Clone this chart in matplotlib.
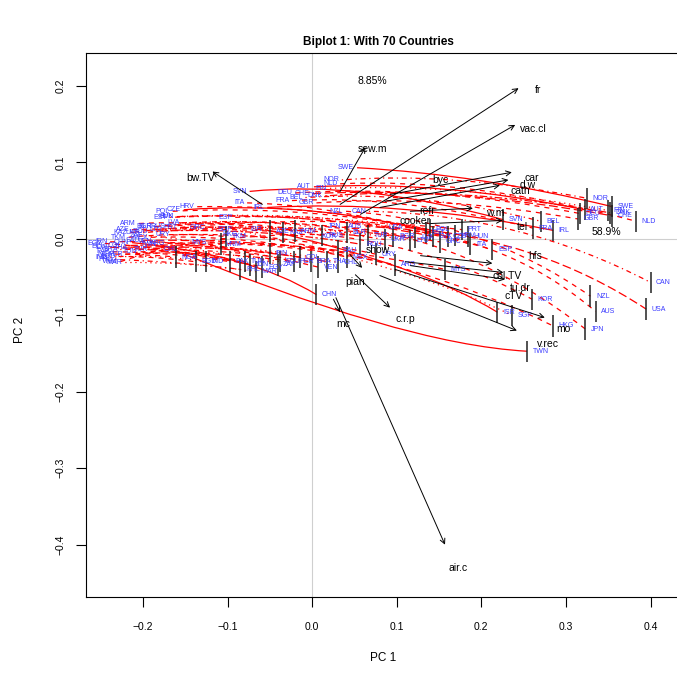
import matplotlib
matplotlib.use("Agg")
import matplotlib.pyplot as plt
from matplotlib.path import Path
from matplotlib.patches import PathPatch

plt.rcParams['font.family'] = ['Liberation Sans', 'DejaVu Sans']

# paesi: punto iniziale, punto di curvatura, punto finale (PC1, PC2)
countries = ["SWE", "NOR", "NLD", "AUT", "FIN", "DEU", "CHE", "DNK", "GBR", "BEL",
             "FRA", "IRL", "ITA", "SVN", "ESP", "CAN", "NZL", "USA", "AUS", "JPN",
             "KOR", "HKG", "TWN", "SGP", "ISR", "CHN", "MYS", "ARG", "CHL", "MEX",
             "THA", "VEN", "BRA", "PER", "ZAF", "TKM", "KAZ", "RUS", "BLR", "TUR",
             "UKR", "BGR", "POL", "CZE", "HUN", "PRT", "SVK", "HRV", "EST", "LVA",
             "LTU", "GRC", "ROU", "AZE", "NGA", "IND", "PAK", "IDN", "EGY", "PHL",
             "VNM", "MAR", "BGD", "TUN", "COL", "IRN", "ECU", "URY", "SAU", "ARM"]
start_x = [0.053, 0.035, 0.033, 0.002, 0.021, -0.020, 0.000, 0.015, 0.005, -0.008,
           -0.024, -0.053, -0.077, -0.074, -0.091, 0.067, 0.040, 0.110, 0.063, 0.038,
           0.032, -0.085, -0.180, -0.091, -0.056, -0.213, -0.121, -0.171, -0.156, -0.191,
           -0.215, -0.186, -0.227, -0.221, -0.197, -0.217, -0.215, -0.171, -0.186, -0.191,
           -0.200, -0.186, -0.165, -0.152, -0.160, -0.156, -0.160, -0.136, -0.168, -0.154,
           -0.174, -0.123, -0.191, -0.213, -0.233, -0.239, -0.236, -0.239, -0.245, -0.233,
           -0.227, -0.221, -0.229, -0.203, -0.221, -0.239, -0.241, -0.165, -0.200, -0.205]
start_y = [0.093, 0.077, 0.072, 0.068, 0.066, 0.060, 0.059, 0.056, 0.047, 0.054,
           0.050, 0.041, 0.047, 0.062, 0.028, 0.036, 0.036, 0.015, 0.016, 0.016,
           0.003, 0.006, -0.007, 0.012, 0.012, -0.005, -0.005, -0.006, -0.014, 0.002,
           -0.011, -0.004, -0.014, -0.020, 0.004, 0.002, 0.008, 0.016, 0.016, -0.014,
           0.008, 0.016, 0.036, 0.038, 0.029, 0.015, 0.029, 0.042, 0.028, 0.021,
           0.012, 0.015, 0.010, 0.012, -0.020, -0.024, -0.017, -0.011, -0.006, -0.027,
           -0.030, -0.031, -0.023, -0.017, -0.009, -0.004, -0.010, 0.005, -0.002, 0.020]
bend_x = [0.199, 0.163, 0.187, 0.151, 0.175, 0.139, 0.163, 0.170, 0.151, 0.128,
          0.104, 0.104, 0.033, 0.057, 0.045, 0.246, 0.199, 0.270, 0.222, 0.187,
          0.151, 0.128, 0.104, 0.128, 0.128, -0.073, 0.021, -0.038, -0.061, -0.073,
          -0.097, -0.085, -0.109, -0.121, -0.121, -0.156, -0.121, -0.073, -0.073, -0.061,
          -0.050, -0.038, -0.014, 0.009, 0.021, 0.021, 0.000, 0.021, -0.014, -0.014,
          -0.026, 0.021, -0.061, -0.132, -0.191, -0.180, -0.168, -0.156, -0.144, -0.156,
          -0.168, -0.144, -0.186, -0.144, -0.121, -0.144, -0.144, -0.050, -0.085, -0.120]
bend_y = [0.084, 0.088, 0.080, 0.077, 0.073, 0.071, 0.069, 0.070, 0.058, 0.064,
          0.058, 0.051, 0.045, 0.077, 0.038, 0.032, 0.025, -0.001, 0.012, -0.001,
          -0.014, -0.027, -0.138, -0.040, -0.034, -0.020, -0.007, -0.001, -0.007, 0.006,
          -0.007, -0.011, -0.011, -0.014, -0.001, 0.009, 0.023, 0.028, 0.032, 0.012,
          0.023, 0.032, 0.045, 0.051, 0.038, 0.032, 0.036, 0.045, 0.036, 0.028,
          0.023, 0.019, 0.015, 0.015, -0.020, -0.020, -0.017, -0.014, -0.014, -0.030,
          -0.007, -0.030, -0.023, -0.014, -0.004, -0.001, -0.011, 0.010, 0.000, 0.025]
end_x = [0.355, 0.325, 0.383, 0.322, 0.350, 0.317, 0.355, 0.352, 0.314, 0.270,
         0.261, 0.285, 0.187, 0.226, 0.213, 0.400, 0.329, 0.395, 0.335, 0.323,
         0.260, 0.285, 0.254, 0.236, 0.219, 0.005, 0.157, 0.098, 0.030, 0.041,
         0.018, 0.007, -0.002, -0.022, -0.041, -0.102, -0.034, 0.012, 0.041, 0.066,
         0.086, 0.096, 0.139, 0.160, 0.184, 0.177, 0.143, 0.169, 0.134, 0.122,
         0.116, 0.151, 0.057, -0.050, -0.161, -0.126, -0.097, -0.073, -0.059, -0.085,
         -0.108, -0.067, -0.138, -0.079, -0.014, -0.050, -0.038, 0.075, 0.030, -0.020]
end_y = [0.042, 0.053, 0.023, 0.038, 0.037, 0.033, 0.030, 0.034, 0.026, 0.023,
         0.014, 0.011, -0.007, 0.025, -0.014, -0.057, -0.075, -0.092, -0.095, -0.118,
         -0.079, -0.114, -0.147, -0.100, -0.096, -0.073, -0.040, -0.034, -0.031, -0.024,
         -0.030, -0.037, -0.030, -0.030, -0.034, 0.003, 0.008, 0.004, 0.008, 0.004,
         -0.001, 0.003, 0.012, 0.003, 0.003, 0.012, 0.003, 0.004, 0.008, 0.002,
         -0.002, -0.004, -0.007, 0.010, -0.024, -0.030, -0.030, -0.034, -0.037, -0.040,
         -0.007, -0.043, -0.030, -0.030, -0.024, -0.019, -0.030, -0.020, -0.015, 0.010]
# tipo di linea stile R (1..6)
lty = [1, 4, 2, 1, 3, 2, 5, 6, 2, 4,
       2, 1, 2, 1, 2, 4, 2, 5, 2, 2,
       2, 2, 1, 3, 1, 1, 2, 2, 3, 2,
       5, 2, 4, 2, 3, 2, 5, 2, 3, 2,
       4, 2, 2, 1, 3, 2, 5, 2, 4, 2,
       3, 2, 6, 2, 2, 3, 2, 5, 2, 4,
       2, 3, 2, 2, 6, 2, 3, 2, 5, 2]

# variabili: coda e punta delle frecce, posizione etichetta
variables = ["fr", "vac.cl", "sew.m", "bw.TV", "car", "d.w", "cath", "w.m", "tel",
             "hfs", "col.TV", "tu.dr", "v.rec", "mo", "c.r.p", "mc", "air.c", "pian"]
tail_x = [0.033, 0.057, 0.033, -0.059, 0.092, 0.086, 0.080, 0.116, 0.140,
          0.128, 0.110, 0.116, 0.080, 0.098, 0.051, 0.025, 0.028, 0.045]
tail_y = [0.045, 0.032, 0.062, 0.045, 0.058, 0.049, 0.041, 0.036, 0.020,
          -0.022, -0.030, -0.035, -0.048, -0.040, -0.047, -0.079, -0.077, -0.021]
head_x = [0.244, 0.240, 0.063, -0.118, 0.236, 0.232, 0.222, 0.190, 0.225,
          0.213, 0.226, 0.228, 0.242, 0.275, 0.092, 0.033, 0.157, 0.059]
head_y = [0.197, 0.149, 0.120, 0.088, 0.087, 0.077, 0.070, 0.040, 0.024,
          -0.032, -0.044, -0.053, -0.120, -0.103, -0.090, -0.096, -0.400, -0.038]
var_label_x = [0.267, 0.261, 0.071, -0.132, 0.259, 0.255, 0.246, 0.216, 0.248,
               0.264, 0.231, 0.246, 0.279, 0.297, 0.110, 0.037, 0.173, 0.051]
var_label_y = [0.195, 0.143, 0.117, 0.079, 0.080, 0.070, 0.062, 0.034, 0.015,
               -0.023, -0.048, -0.064, -0.138, -0.118, -0.105, -0.112, -0.431, -0.056]
# variabili senza freccia visibile
extra_vars = ["byc", "refr", "cooker", "show", "cTV"]
extra_x = [0.151, 0.136, 0.122, 0.078, 0.238]
extra_y = [0.077, 0.037, 0.023, -0.014, -0.075]

R_DASH = {1: '-', 2: (0, (4, 4)), 3: (0, (1, 3)), 4: (0, (1, 3, 4, 3)),
          5: (0, (7, 3)), 6: (0, (2, 2, 6, 2))}
BLUE = '#3a3aff'


def traiettoria(ax, i):
    verts = [(start_x[i], start_y[i]), (bend_x[i], bend_y[i]), (end_x[i], end_y[i])]
    codes = [Path.MOVETO, Path.CURVE3, Path.CURVE3]
    patch = PathPatch(Path(verts, codes), fill=False, edgecolor='red', lw=0.9,
                      linestyle=R_DASH[lty[i]], zorder=2)
    ax.add_patch(patch)


def main():
    fig = plt.figure(figsize=(6.77, 6.76), dpi=100)
    ax = fig.add_axes([86 / 677, (676 - 596.7) / 676, (690 - 86) / 677, (596.7 - 53.3) / 676])

    ax.axhline(0, color='#cfcfcf', lw=0.8, zorder=1)
    ax.axvline(0, color='#cfcfcf', lw=0.8, zorder=1)

    for i in range(len(countries)):
        traiettoria(ax, i)

    ax.vlines(end_x, [y - 0.014 for y in end_y], [y + 0.014 for y in end_y],
              color='#222222', lw=1.1, zorder=3)

    for i, c in enumerate(countries):
        ax.annotate(c, (start_x[i], start_y[i]), xytext=(-2, 0), textcoords='offset points',
                    ha='right', va='center', fontsize=5, color=BLUE, zorder=4)
        ax.annotate(c, (end_x[i], end_y[i]), xytext=(4, 0), textcoords='offset points',
                    ha='left', va='center', fontsize=5, color=BLUE, zorder=4)

    for i, v in enumerate(variables):
        ax.annotate('', xy=(head_x[i], head_y[i]), xytext=(tail_x[i], tail_y[i]),
                    arrowprops=dict(arrowstyle='->', lw=0.7, color='black',
                                    shrinkA=0, shrinkB=0, mutation_scale=9), zorder=5)
        ax.text(var_label_x[i], var_label_y[i], v, fontsize=7.5, ha='center',
                va='center', zorder=6)
    for i, v in enumerate(extra_vars):
        ax.text(extra_x[i], extra_y[i], v, fontsize=7.5, ha='center', va='center', zorder=6)

    ax.text(0.0709, 0.2065, '8.85%', fontsize=7.5, ha='center', va='center')
    ax.text(0.3475, 0.0095, '58.9%', fontsize=7.5, ha='center', va='center')

    ax.set_xlim(-0.2675, 0.4467)
    ax.set_ylim(-0.468, 0.2426)
    ax.set_xticks([-0.2, -0.1, 0.0, 0.1, 0.2, 0.3, 0.4])
    ax.set_yticks([-0.4, -0.3, -0.2, -0.1, 0.0, 0.1, 0.2])
    ax.set_xticklabels(['\u22120.2', '\u22120.1', '0.0', '0.1', '0.2', '0.3', '0.4'])
    ax.set_yticklabels(['\u22120.4', '\u22120.3', '\u22120.2', '\u22120.1', '0.0', '0.1', '0.2'],
                       rotation=90, va='center')
    ax.tick_params(axis='x', direction='out', length=7, width=0.8, labelsize=7.5, pad=11)
    ax.tick_params(axis='y', direction='out', length=7, width=0.8, labelsize=7.5, pad=8)
    for s in ax.spines.values():
        s.set_linewidth(0.8)

    fig.text(378 / 677, 1 - 42 / 676, 'Biplot 1: With 70 Countries', fontsize=8.5,
             fontweight='bold', ha='center', va='center')
    fig.text(383 / 677, 1 - 658 / 676, 'PC 1', fontsize=8.5, ha='center', va='center')
    fig.text(20 / 677, 1 - 330 / 676, 'PC 2', fontsize=8.5, ha='center', va='center',
             rotation=90)

    fig.savefig('out.png', dpi=100)


if __name__ == "__main__":
    main()
